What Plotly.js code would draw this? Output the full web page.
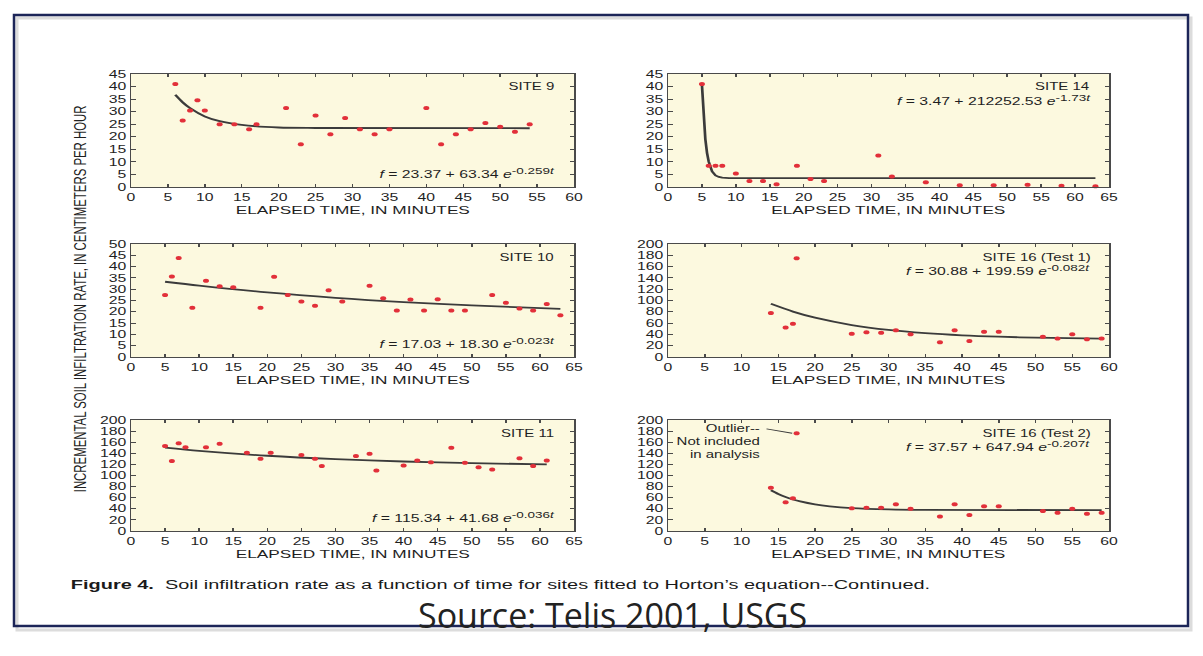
<!DOCTYPE html>
<html><head><meta charset="utf-8">
<script src="https://cdn.plot.ly/plotly-3.0.1.min.js"></script>
<style>
html,body{margin:0;padding:0;background:#fff;overflow:hidden;width:1203px;height:656px;}
#wrap{position:absolute;left:0;top:0;width:802px;height:656px;transform:scaleX(1.5);transform-origin:0 0;}
#main{width:802px;height:656px;}
#over{position:absolute;left:0;top:0;width:1203px;height:656px;pointer-events:none;}
</style></head><body>
<div id="wrap"><div id="main"></div></div>
<div id="over"></div>
<script>
// ---- data ----
const site9_t = [6,7,8,9,10,12,14,16,17,21,23,25,27,29,31,33,35,40,42,44,46,48,50,52,54];
const site9_f = [41,26.5,30.5,34.5,30.5,25,25,23,25,31.5,17,28.5,21,27.5,23,21,23,31.5,17,21,23,25.5,24,22,25];
const site9_fitT = [6,7,8,10,12,15,20,25,54];
const site9_fitF = [36.7,33.7,31.4,28.1,26.2,24.7,23.7,23.5,23.4];

const site14_t = [5,6,7,8,10,12,14,16,19,21,23,31,33,38,43,48,53,58,63];
const site14_f = [41,8.5,8.5,8.5,5.4,2.4,2.4,1.1,8.5,3.2,2.4,12.5,4.2,1.9,0.7,0.7,0.9,0.5,0.3];
const site14_fitT = [5,5.25,5.5,5.75,6,6.5,7,7.5,8,9,63];
const site14_fitF = [40.7,27.6,19.1,13.6,10.1,6.2,4.6,4.0,3.7,3.5,3.5];

const site10_t = [5,6,7,9,11,13,15,19,21,23,25,27,29,31,35,37,39,41,43,45,47,49,53,55,57,59,61,63];
const site10_f = [27.4,35.6,43.8,21.8,33.7,31.3,30.9,21.8,35.5,27.4,24.6,22.7,29.5,24.6,31.5,26,20.6,25.4,20.6,25.5,20.6,20.6,27.4,24,21.5,20.6,23.4,18.5];
const site10_fitT = [5,10,20,30,40,50,63];
const site10_fitF = [33.3,31.6,28.6,26.2,24.3,22.8,21.3];

const site16a_t = [14,16,17,17.5,25,27,29,31,33,37,39,41,43,45,51,53,55,57,59];
const site16a_f = [78,52,59,175,41,44,43,47.5,40.4,26,47.5,28.5,44.5,44.5,36,32.6,40.4,31.5,32.6];
const site16a_fitT = [14,17,20,25,30,35,40,45,50,59];
const site16a_fitF = [94.2,80.4,69.6,56.6,47.9,42.2,38.4,35.9,34.2,32.5];

const site11_t = [5,6,7,8,11,13,17,19,20.5,25,27,28,33,35,36,40,42,44,47,49,51,53,57,59,61];
const site11_f = [153,126,158,151,151,157,141,130,141,137,130,117,135,139,109,118,127,124,150,123,115,111,131,117,127];
const site11_fitT = [5,10,20,30,40,50,61];
const site11_fitF = [150.2,144.4,135.6,129.5,125.2,122.2,120.0];

const site16b_t = [14,16,17,17.5,25,27,29,31,33,37,39,41,43,45,51,53,55,57,59];
const site16b_f = [78,51.6,59,176,41,42,42,48,40,26,48,29,44.5,44.5,36,33,40,31,33];
const site16b_fitT = [14,15,16,17,18,20,22,25,30,35,59];
const site16b_fitF = [73.3,66.6,61.2,56.8,53.2,47.9,44.4,41.2,38.9,38.0,37.6];

const panelNames = ['SITE 9','SITE 14','SITE 10','SITE 16 (Test 1)','SITE 11','SITE 16 (Test 2)'];
const eqConst = ['23.37','3.47','17.03','30.88','115.34','37.57'];
const eqCoef = ['63.34','212252.53','18.30','199.59','41.68','647.94'];
const eqRate = ['-0.259','-1.73','-0.023','-0.082','-0.036','-0.207'];
const xTitle = 'ELAPSED TIME, IN MINUTES';
const yTitle = 'INCREMENTAL SOIL INFILTRATION RATE, IN CENTIMETERS PER HOUR';
const caption = '<b>Figure 4.</b>\u00a0\u00a0Soil infiltration rate as a function of time for sites fitted to Horton\u2019s equation--Continued.';
const outlierNote = 'Outlier--<br>Not included<br>in analysis';
const sourceText = 'Source: Telis 2001, USGS';

// ---- layout helpers (reference pixel -> paper fraction) ----
const RW = 1203, RH = 656;
const fx = p => p / RW, fy = p => 1 - p / RH;

const colsX = [[131,574],[668,1109]];
const rowsY = [[74,187],[244,357],[420,531]];
const xRanges = [[0,60],[0,65],[0,65],[0,60],[0,65],[0,60]];
const yRanges = [[0,45],[0,45],[0,50],[0,200],[0,200],[0,200]];
const yDt = [5,5,5,20,20,20];

const DOT = '#e2303a', LINE = '#3b3b3b', AX = '#4a4a4a', TXT = '#1f1f1f';
const FONT = 'Liberation Sans, Arial, Helvetica, sans-serif';

const pts = [[site9_t,site9_f],[site14_t,site14_f],[site10_t,site10_f],[site16a_t,site16a_f],[site11_t,site11_f],[site16b_t,site16b_f]];
const fits = [[site9_fitT,site9_fitF],[site14_fitT,site14_fitF],[site10_fitT,site10_fitF],[site16a_fitT,site16a_fitF],[site11_fitT,site11_fitF],[site16b_fitT,site16b_fitF]];

const data = [];
const layout = {
  width: 802, height: 656, margin:{l:0,r:0,t:0,b:0},
  paper_bgcolor:'rgba(0,0,0,0)', plot_bgcolor:'#fcf9df',
  showlegend:false, font:{family:FONT, size:10, color:TXT},
  annotations:[], shapes:[]
};

for (let i = 0; i < 6; i++) {
  const c = i % 2, r = Math.floor(i / 2);
  const sfx = i === 0 ? '' : String(i + 1);
  const xa = 'x' + sfx, ya = 'y' + sfx;
  layout['xaxis' + sfx] = {
    domain:[fx(colsX[c][0]), fx(colsX[c][1])], range:xRanges[i], anchor:ya,
    tick0:0, dtick:5, showgrid:false, zeroline:false, showline:true, mirror:'ticks',
    linecolor:AX, linewidth:1, ticks:'inside', ticklen:3, tickcolor:AX,
    tickfont:{size:10.5, color:TXT}, fixedrange:true
  };
  layout['yaxis' + sfx] = {
    domain:[fy(rowsY[r][1]), fy(rowsY[r][0])], range:yRanges[i], anchor:xa,
    tick0:0, dtick:yDt[i], showgrid:false, zeroline:false, showline:true, mirror:'ticks',
    linecolor:AX, linewidth:1, ticks:'inside', ticklen:3, tickcolor:AX,
    tickfont:{size:10.5, color:TXT}, fixedrange:true
  };
  data.push({x:fits[i][0], y:fits[i][1], xaxis:xa, yaxis:ya, type:'scatter', mode:'lines',
    line:{color:LINE, width:1.8, shape: i === 1 ? 'linear' : 'spline', smoothing:0.8}, hoverinfo:'skip', cliponaxis:false});
  data.push({x:pts[i][0], y:pts[i][1], xaxis:xa, yaxis:ya, type:'scatter', mode:'markers',
    marker:{color:DOT, size:4}, cliponaxis:false});

  // x axis title
  const xc = (colsX[c][0] + colsX[c][1]) / 2;
  layout.annotations.push({xref:'paper', yref:'paper', x:fx(xc), y:fy(rowsY[r][1] + 23),
    text:xTitle, showarrow:false, xanchor:'center', yanchor:'middle', font:{size:11.5, color:TXT}});
  // site label
  const right = colsX[c][1] - 16;
  const top = rowsY[r][0];
  layout.annotations.push({xref:'paper', yref:'paper', x:fx(right), y:fy(top + 13),
    text:panelNames[i], showarrow:false, xanchor:'right', yanchor:'middle', font:{size:10, color:TXT}});
  // equation
  const eq = '<i>f</i> = ' + eqConst[i] + ' + ' + eqCoef[i] + ' <i>e</i><sup><span style="font-size:9px">' + eqRate[i] + '<i>t</i></span></sup>';
  const eqY = (c === 0) ? rowsY[r][1] - 14 : top + 26;
  layout.annotations.push({xref:'paper', yref:'paper', x:fx(right), y:fy(eqY),
    text:eq, showarrow:false, xanchor:'right', yanchor:'middle', font:{size:10.5, color:TXT}});
}

// outlier note (site 16 test 2)
layout.annotations.push({xref:'paper', yref:'paper', x:fx(764), y:fy(441), text:outlierNote,
  showarrow:false, xanchor:'right', yanchor:'middle', align:'right', font:{size:10, color:TXT}});
layout.shapes.push({type:'line', xref:'x6', yref:'y6', x0:13.4, y0:184, x1:site16b_t[3] - 0.6, y1:site16b_f[3],
  line:{color:LINE, width:1}});

// y title
layout.annotations.push({xref:'paper', yref:'paper', x:fx(80), y:fy(299), text:yTitle, textangle:-90,
  showarrow:false, xanchor:'center', yanchor:'middle', font:{size:11.4, color:TXT}});
// caption
layout.annotations.push({xref:'paper', yref:'paper', x:fx(68), y:fy(584), text:caption,
  showarrow:false, xanchor:'left', yanchor:'middle', font:{size:13.3, color:'#1a1a1a'}});

// overlay: frame and source line (not stretched)
const over = {
  width:1203, height:656, margin:{l:0,r:0,t:0,b:0},
  paper_bgcolor:'rgba(0,0,0,0)', plot_bgcolor:'rgba(0,0,0,0)',
  xaxis:{visible:false, range:[0,1]}, yaxis:{visible:false, range:[0,1]},
  shapes:[
    {type:'rect', xref:'paper', yref:'paper', x0:fx(17), x1:fx(1191), y0:fy(630), y1:fy(18),
      line:{color:'rgba(60,60,60,0.18)', width:3}},
    {type:'rect', xref:'paper', yref:'paper', x0:fx(14), x1:fx(1188), y0:fy(626), y1:fy(15),
      line:{color:'#1c2558', width:2.5}}
  ],
  annotations:[
    {xref:'paper', yref:'paper', x:fx(612), y:fy(615), text:sourceText, showarrow:false,
      xanchor:'center', yanchor:'middle', font:{family:'Open Sans, Lato, sans-serif', size:34, color:'#222'}}
  ]
};

function dropEmptyTexts() {
  document.querySelectorAll('svg text').forEach(t => { if (!t.textContent.trim()) t.remove(); });
}
Plotly.newPlot('main', data, layout, {staticPlot:true, displayModeBar:false})
  .then(() => Plotly.newPlot('over', [], over, {staticPlot:true, displayModeBar:false}))
  .then(dropEmptyTexts);
</script>
</body></html>
